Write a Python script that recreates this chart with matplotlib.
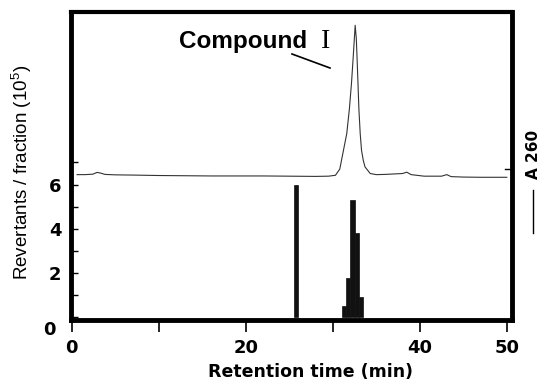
import matplotlib
matplotlib.use("Agg")
import matplotlib.pyplot as plt
from matplotlib.lines import Line2D

plt.rcParams['mathtext.fontset'] = 'custom'
plt.rcParams['mathtext.rm'] = 'Liberation Sans'

# Revertant bars (fractions, min) and heights (x10^5)
bar_times = [25.75, 31.25, 31.75, 32.25, 32.75, 33.25]
bar_heights = [6.0, 0.5, 1.8, 5.3, 3.8, 0.9]
bar_width = 0.5

# A260 trace (drawn on the revertant scale)
trace_t = [0.6, 1.5, 2.4, 2.9, 3.3, 3.8, 5.0, 7.0, 10.0, 13.0, 16.0, 19.0, 22.0,
           25.0, 28.0, 29.5, 30.3, 30.8, 31.2, 31.6, 31.9, 32.15, 32.35, 32.57,
           32.7, 32.8, 33.0, 33.15, 33.3, 33.5, 33.7, 34.3, 35.0, 36.0, 38.0,
           38.5, 39.0, 40.5, 42.5, 43.1, 43.6, 45.0, 47.0, 50.0]
trace_v = [6.45, 6.45, 6.47, 6.55, 6.52, 6.46, 6.44, 6.43, 6.41, 6.40, 6.39, 6.39, 6.39,
           6.38, 6.37, 6.38, 6.42, 6.7, 7.5, 8.3, 9.4, 10.6, 11.8, 13.2,
           12.6, 11.6, 9.4, 8.3, 7.55, 7.1, 6.8, 6.5, 6.45, 6.46, 6.50,
           6.56, 6.45, 6.38, 6.38, 6.45, 6.36, 6.34, 6.33, 6.33]

x_ticks = [0, 10, 20, 30, 40, 50]
x_ticklabels = ['0', '', '20', '', '40', '50']
y_ticks = [0, 1, 2, 3, 4, 5, 6, 7]
y_ticklabels = ['', '', '2', '', '4', '', '6', '']

W, H = 546, 386
fig = plt.figure(figsize=(W / 100, H / 100), dpi=100)
ax = fig.add_axes([71 / W, 1 - 320 / H, (512 - 71) / W, (320 - 12) / H])

ax.bar(bar_times, bar_heights, width=bar_width, color='#111111', edgecolor='#111111',
       linewidth=0.5, zorder=3)
ax.plot(trace_t, trace_v, color='#333333', lw=0.8, zorder=2)

ax.set_xlim(-0.1, 50.6)
ax.set_ylim(-0.12, 13.8)

for side, lw in [('left', 3.5), ('top', 3.0), ('right', 3.5), ('bottom', 3.5)]:
    ax.spines[side].set_linewidth(lw)

ax.set_xticks(x_ticks)
ax.set_xticklabels(x_ticklabels)
ax.set_yticks(y_ticks)
ax.set_yticklabels(y_ticklabels)
ax.tick_params(axis='x', direction='out', length=8.5, width=1.2, pad=5,
               labelsize=13)
ax.tick_params(axis='y', direction='in', length=5, width=1.0, pad=7,
               labelsize=13)
for lab in ax.get_xticklabels() + ax.get_yticklabels():
    lab.set_fontweight('bold')
    lab.set_family('DejaVu Sans')

# "0" label of the y axis sits slightly below the baseline
ax.text(-0.035, -0.55, '0', transform=ax.get_yaxis_transform(), ha='right',
        va='center', fontsize=13, fontweight='bold', family='DejaVu Sans')

# right-hand tick for the A260 scale
ax.plot([1.0, 0.985], [6.7, 6.7], transform=ax.get_yaxis_transform(),
        color='black', lw=1.0, clip_on=False)

fig.text(311 / W, 1 - 372 / H, 'Retention time (min)', ha='center', va='center',
         fontsize=12.5, fontweight='bold', family='DejaVu Sans')

fig.text(22 / W, 1 - 172 / H, 'Revertants / fraction (10$^{5}$)', rotation=90,
         ha='center', va='center', fontsize=13.5, family='Liberation Sans')

# Compound I annotation
fig.text(179 / W, 1 - 48 / H, 'Compound', ha='left', va='baseline',
         fontsize=17.5, fontweight='bold', family='Liberation Sans')
fig.text(321 / W, 1 - 48 / H, 'I', ha='left', va='baseline',
         fontsize=20, family='Liberation Serif')
fig.add_artist(Line2D([292 / W, 330 / W], [1 - 54 / H, 1 - 68 / H],
                      color='black', lw=1.2))

# right label: line + A 260
fig.add_artist(Line2D([533 / W, 533 / W], [1 - 233 / H, 1 - 190 / H],
                      color='black', lw=1.0))
fig.text(533 / W, 1 - 154 / H, 'A 260', rotation=90, ha='center', va='center',
         fontsize=11, fontweight='bold', family='DejaVu Sans')

fig.savefig('out.png', dpi=100)
